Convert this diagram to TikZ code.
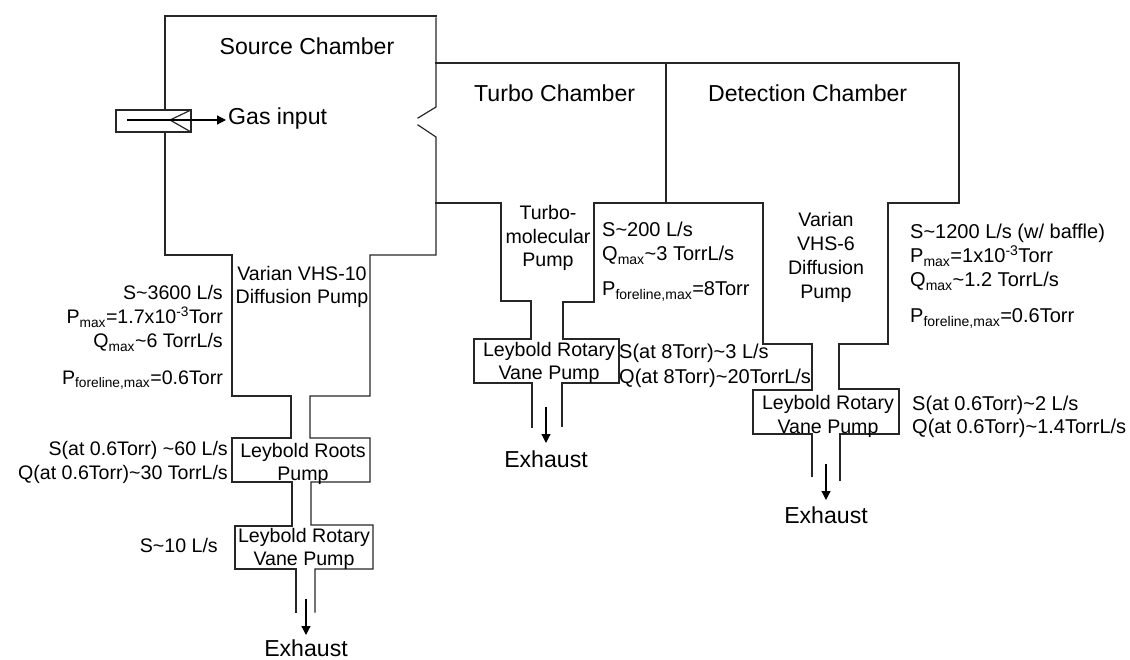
\documentclass[tikz,border=0pt]{standalone}
\usepackage{fontspec}
\setmainfont{Liberation Sans}
\usetikzlibrary{arrows.meta}
\newcommand{\subt}[1]{\textsubscript{#1}}
\tikzset{
  wall/.style={draw=black!85,line width=1.2pt,line cap=rect},
  flowarrow/.style={draw=black,line width=1.2pt,-{Triangle[length=9pt,width=9pt]}},
  big/.style={font=\fontsize{23.1}{24}\selectfont,inner sep=0pt},
  small/.style={font=\fontsize{19.6}{22}\selectfont,inner sep=0pt},
  value/.style={font=\fontsize{20}{22}\selectfont,inner sep=0pt},
  bc/.style={small,anchor=base},
  bl/.style={value,anchor=base west},
  br/.style={small,anchor=base east}
}
\begin{document}
\begin{tikzpicture}[x=1pt,y=-1pt]
\useasboundingbox (0,0) rectangle (1130,660);
% source chamber and first pump train
\draw[wall] (165,110) -- (165,16) -- (436,16);
\draw[wall] (436,18) -- (436,107) -- (418,118);
\draw[wall] (418,125) -- (436,137) -- (436,255) -- (370,255) -- (370,396) -- (310,396) -- (310,438) -- (370,438) -- (370,482) -- (311,482) -- (311,525) -- (373,525) -- (373,569) -- (315,569) -- (315,612);
\draw[wall] (165,132) -- (165,255) -- (232,255) -- (232,396) -- (291,396) -- (291,438) -- (232,438) -- (232,482) -- (292,482) -- (292,526) -- (235,526) -- (235,569) -- (296,569) -- (296,612);
% gas input
\draw[wall] (116,110) rectangle (191,132);
\draw[wall] (191,110) -- (170,120) -- (191,132);
\coordinate (gasstart) at (127,120);
\coordinate (gasend) at (226,120);
\draw[flowarrow] (gasstart) -- (gasend);
% turbo and detection chambers
\draw[wall] (436,63) -- (959,63) -- (959,203) -- (888,203) -- (888,344) -- (839,344) -- (839,389) -- (899,389) -- (899,434) -- (840,434) -- (840,480);
\draw[wall] (666,63) -- (666,203);
\draw[wall] (436,203) -- (501,203) -- (501,301) -- (531,301) -- (531,339) -- (474,339) -- (474,383) -- (532,383) -- (532,427);
\draw[wall] (763,203) -- (594,203) -- (594,302) -- (563,302) -- (563,339) -- (619,339) -- (619,383) -- (562,383) -- (562,426);
\draw[wall] (763,203) -- (763,344) -- (812,344) -- (812,390) -- (753,390) -- (753,434) -- (812,434) -- (812,476);
% exhaust arrows
\coordinate (a1s) at (306,599); \coordinate (a1e) at (306,635);
\coordinate (a2s) at (546,407); \coordinate (a2e) at (546,443);
\coordinate (a3s) at (826,464); \coordinate (a3e) at (826,500);
\draw[flowarrow] (a1s) -- (a1e);
\draw[flowarrow] (a2s) -- (a2e);
\draw[flowarrow] (a3s) -- (a3e);
% headings
\node[big,anchor=base] (tsource) at (307,55) {Source Chamber};
\node[big,anchor=base west] (tgas) at (228,125) {Gas input};
\node[big,anchor=base west] (tturbo) at (474,102) {Turbo Chamber};
\node[big,anchor=base west] (tdetect) at (708,102) {Detection Chamber};
\node[big,anchor=base] (ex1) at (306,656) {Exhaust};
\node[big,anchor=base] (ex2) at (546,467) {Exhaust};
\node[big,anchor=base] (ex3) at (826,523) {Exhaust};
% source pump labels
\node[bc] (v1) at (302,281) {Varian VHS-10};
\node[bc] (v2) at (302,304) {Diffusion Pump};
\node[br] (s1) at (223,300) {S\textasciitilde3600 L/s};
\node[br] (s2) at (223,324) {P\subt{max}=1.7x10\textsuperscript{-3}Torr};
\node[br] (s3) at (223,348) {Q\subt{max}\textasciitilde6 TorrL/s};
\node[br] (s4) at (223,384) {P\subt{foreline,max}=0.6Torr};
\node[br] (s5) at (228,455) {S(at 0.6Torr) \textasciitilde60 L/s};
\node[br] (s6) at (228,479) {Q(at 0.6Torr)\textasciitilde30 TorrL/s};
\node[br] (s7) at (218,552) {S\textasciitilde10 L/s};
\node[bc] (r1) at (303,457) {Leybold Roots};
\node[bc] (r2) at (303,480) {Pump};
\node[bc] (r3) at (304,542) {Leybold Rotary};
\node[bc] (r4) at (304,565) {Vane Pump};
% turbo pump labels
\node[bc] (t1) at (548,220) {Turbo-};
\node[bc] (t2) at (548,244) {molecular};
\node[bc] (t3) at (548,267) {Pump};
\node[bl] (t4) at (602,237) {S\textasciitilde200 L/s};
\node[bl] (t5) at (602,261) {Q\subt{max}\textasciitilde3 TorrL/s};
\node[bl] (t6) at (602,296) {P\subt{foreline,max}=8Torr};
\node[bc] (t7) at (549,356) {Leybold Rotary};
\node[bc] (t8) at (549,379) {Vane Pump};
\node[bl] (t9) at (619,359) {S(at 8Torr)\textasciitilde3 L/s};
\node[bl] (t10) at (619,383) {Q(at 8Torr)\textasciitilde20TorrL/s};
% detection pump labels
\node[bc] (d1) at (826,227) {Varian};
\node[bc] (d2) at (826,251) {VHS-6};
\node[bc] (d3) at (826,275) {Diffusion};
\node[bc] (d4) at (826,299) {Pump};
\node[bl] (d5) at (910,239) {S\textasciitilde1200 L/s (w/ baffle)};
\node[bl] (d6) at (910,263) {P\subt{max}=1x10\textsuperscript{-3}Torr};
\node[bl] (d7) at (910,287) {Q\subt{max}\textasciitilde1.2 TorrL/s};
\node[bl] (d8) at (910,323) {P\subt{foreline,max}=0.6Torr};
\node[bc] (d9) at (828,409) {Leybold Rotary};
\node[bc] (d10) at (828,433) {Vane Pump};
\node[bl] (d11) at (912,410) {S(at 0.6Torr)\textasciitilde2 L/s};
\node[bl] (d12) at (912,433) {Q(at 0.6Torr)\textasciitilde1.4TorrL/s};
\end{tikzpicture}
\end{document}
